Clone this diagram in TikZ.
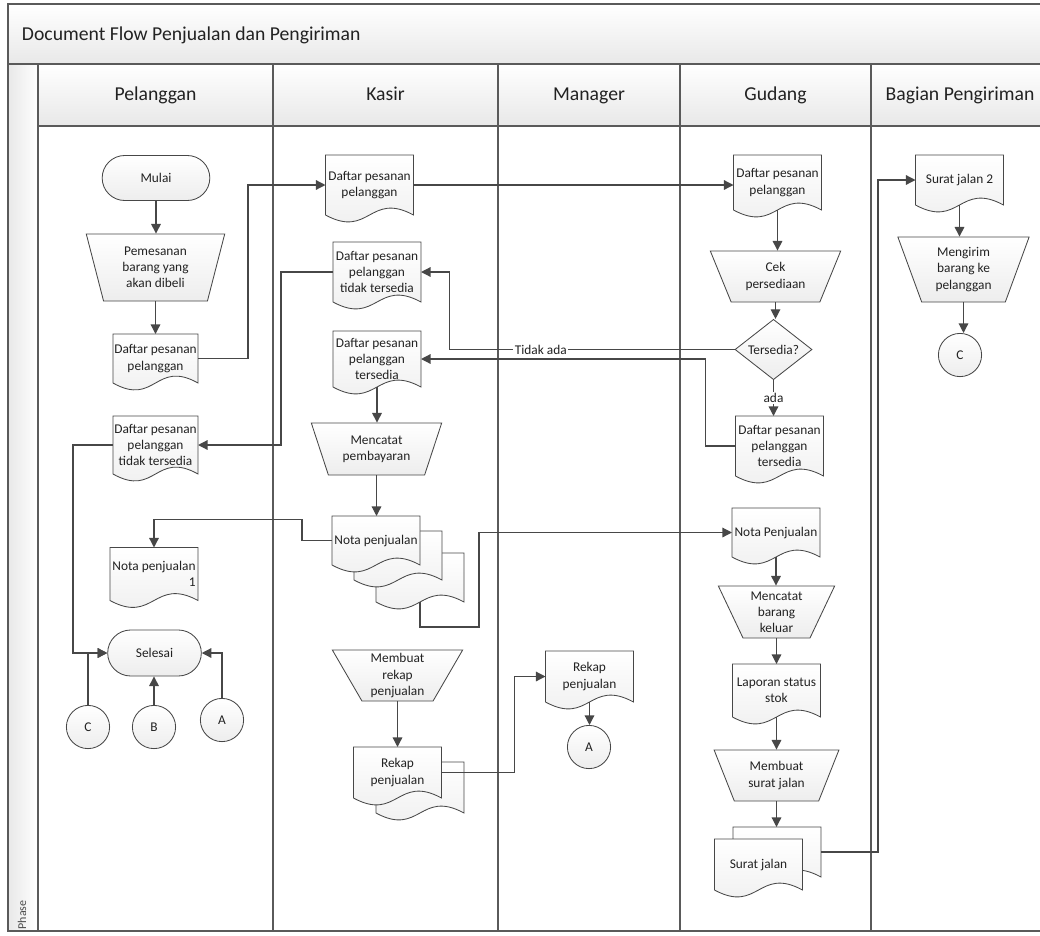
\documentclass[tikz,border=0pt]{standalone}
\usepackage{fontspec}
\setmainfont{Carlito}
\usepackage{tikz}
\usetikzlibrary{positioning, calc, arrows.meta, shapes.geometric, shapes.misc}
\definecolor{lineclr}{HTML}{474747}
\definecolor{laneclr}{HTML}{5A5A5A}
\definecolor{txtclr}{HTML}{222222}
\newdimen\docxl \newdimen\docxr \newdimen\docxm
\newdimen\docyt \newdimen\docyb \newdimen\docyu \newdimen\docyd
\makeatletter
\pgfdeclareshape{docpage}{
  \inheritsavedanchors[from=rectangle]
  \inheritanchorborder[from=rectangle]
  \inheritanchor[from=rectangle]{center}
  \inheritanchor[from=rectangle]{text}
  \inheritanchor[from=rectangle]{base}
  \inheritanchor[from=rectangle]{mid}
  \inheritanchor[from=rectangle]{north}
  \inheritanchor[from=rectangle]{south}
  \inheritanchor[from=rectangle]{east}
  \inheritanchor[from=rectangle]{west}
  \inheritanchor[from=rectangle]{north east}
  \inheritanchor[from=rectangle]{north west}
  \inheritanchor[from=rectangle]{south east}
  \inheritanchor[from=rectangle]{south west}
  \backgroundpath{
    \southwest \docxl=\pgf@x \docyb=\pgf@y
    \northeast \docxr=\pgf@x \docyt=\pgf@y
    \docxm=.5\docxl \advance\docxm by .5\docxr
    \docyu=\docyb \advance\docyu by 17pt
    \docyd=\docyb \advance\docyd by -17pt
    \pgfpathmoveto{\pgfqpoint{\docxl}{\docyb}}
    \pgfpathlineto{\pgfqpoint{\docxl}{\docyt}}
    \pgfpathlineto{\pgfqpoint{\docxr}{\docyt}}
    \pgfpathlineto{\pgfqpoint{\docxr}{\docyb}}
    \pgfpathcurveto{\pgfqpoint{\docxm}{\docyu}}{\pgfqpoint{\docxm}{\docyd}}{\pgfqpoint{\docxl}{\docyb}}
    \pgfpathclose
  }
}
\makeatother
\tikzset{>={Triangle[length=2.4mm,width=2.4mm]}}
\tikzset{
  shp/.style={draw=lineclr, line width=0.6pt, top color=white, bottom color=black!7, text=txtclr, font=\fontsize{9.5}{11.5}\selectfont, align=center},
  docnode/.style={shp, docpage, minimum width=2.2cm, minimum height=#1, inner xsep=0.5pt, inner ysep=1pt, outer sep=0pt},
  docnode/.default=1.25cm,
  manop/.style={shp, trapezium, trapezium angle=#1, shape border rotate=180, trapezium stretches=true, inner sep=0pt},
  term/.style={shp, rounded rectangle},
  decision/.style={shp, diamond, minimum width=1.925cm, minimum height=1.4cm, inner sep=0pt},
  conn/.style={shp, circle, minimum size=1.08cm, inner sep=0pt},
  flow/.style={draw=lineclr, line width=0.9pt, ->},
  lane/.style={draw=laneclr, line width=1.1pt},
  lbl/.style={fill=white, inner sep=1pt, text=txtclr, font=\fontsize{9.5}{11.5}\selectfont},
  head/.style={text=txtclr, font=\fontsize{14}{16}\selectfont, text height=10pt, text depth=3pt}
}

\begin{document}
\begin{tikzpicture}[x=0.025cm, y=-0.025cm]
  \useasboundingbox (0,0) rectangle (1040,935);
  \path[top color=white, bottom color=black!9] (8,4) rectangle (1045,64);
  \path[top color=white, bottom color=black!9] (38,64) rectangle (1045,126);
  \path[left color=black!9, right color=white] (8,64) rectangle (38,931);
  \draw[lane] (8,4) rectangle (1045,931);
  \draw[lane] (8,64) -- (1045,64);
  \draw[lane] (38,126) -- (1045,126);
  \foreach \x in {38,273,498,680,871}
    \draw[lane] (\x,64) -- (\x,931);

  \node[head, anchor=west] (title) at (17,36) {Document Flow Penjualan dan Pengiriman};
  \node[head] (hpel) at (155.5,96) {Pelanggan};
  \node[head] (hkas) at (385.5,96) {Kasir};
  \node[head] (hman) at (589,96) {Manager};
  \node[head] (hgud) at (775.5,96) {Gudang};
  \node[head] (hkir) at (960,96) {Bagian Pengiriman};
  \node[rotate=90, text=black!70, font=\fontsize{8.5}{9}\selectfont] (phase) at (22,915) {Phase};

  \node[term, minimum width=2.925cm, minimum height=1.125cm] (mulai) at (156,178) {Mulai};
  \node[manop=75, minimum width=3.475cm, minimum height=1.675cm] (pesan) at (155.5,267.5) {Pemesanan\\barang yang\\akan dibeli};
  \node[docnode=1.225cm, minimum width=2.125cm] (pdaftar) at (155.5,358.5) {Daftar pesanan\\pelanggan};
  \node[docnode=1.45cm, minimum width=2.125cm] (ptidak) at (155.5,445) {Daftar pesanan\\pelanggan\\tidak tersedia};
  \node[docnode=1.325cm, align=right] (pnota) at (154,574) {Nota penjualan\\1};
  \node[term, minimum width=2.575cm, minimum height=1.15cm] (selesai) at (154.5,653) {Selesai};
  \node[conn] (pc) at (88,727) {C};
  \node[conn] (pb) at (154,727) {B};
  \node[conn] (pa) at (222,720) {A};

  \node[docnode=1.5cm] (kdaftar) at (369.5,185) {Daftar pesanan\\pelanggan};
  \node[docnode=1.5cm] (ktidak) at (377,272) {Daftar pesanan\\pelanggan\\tidak tersedia};
  \node[docnode=1.4cm] (ktersedia) at (377,359) {Daftar pesanan\\pelanggan\\tersedia};
  \node[manop=66, minimum width=3.275cm, minimum height=1.3cm] (kbayar) at (376.5,449) {Mencatat\\pembayaran};
  \node[docnode=1.225cm] (knota3) at (420,577.5) {};
  \node[docnode=1.225cm] (knota2) at (398,555.5) {};
  \node[docnode=1.225cm] (knota) at (376,540.5) {Nota penjualan};
  \node[manop=63, minimum width=3.275cm, minimum height=1.275cm] (kbuatrekap) at (397.5,675.5) {Membuat\\rekap\\penjualan};
  \node[docnode=1.275cm] (krekap2) at (420,787.5) {};
  \node[docnode=1.275cm] (krekap) at (397.5,772.5) {Rekap\\penjualan};

  \node[docnode=1.275cm] (mrekap) at (589.5,676.5) {Rekap\\penjualan};
  \node[conn] (ma) at (589,747) {A};

  \node[docnode=1.375cm] (gdaftar) at (777.5,182.5) {Daftar pesanan\\pelanggan};
  \node[manop=63, minimum width=3.275cm, minimum height=1.275cm] (gcek) at (775.5,276.5) {Cek\\persediaan};
  \node[decision] (gstok) at (773.5,349.5) {Tersedia?};
  \node[docnode=1.5cm] (gtersedia) at (779.5,446) {Daftar pesanan\\pelanggan\\tersedia};
  \node[docnode=1.225cm] (gnota) at (776,532.5) {Nota Penjualan};
  \node[manop=65, minimum width=2.925cm, minimum height=1.3cm] (gcatat) at (776.5,612) {Mencatat\\barang\\keluar};
  \node[docnode=1.325cm] (glaporan) at (776.5,690.5) {Laporan status\\stok};
  \node[manop=64, minimum width=3.125cm, minimum height=1.275cm] (gbuatsj) at (776.5,775.5) {Membuat\\surat jalan};
  \node[docnode=1.25cm] (gsj2) at (777,852) {};
  \node[docnode=1.275cm] (gsj) at (758.5,864.5) {Surat jalan};

  \node[docnode=1.25cm] (bsj) at (959.5,180) {Surat jalan 2};
  \node[manop=70, minimum width=3.3cm, minimum height=1.625cm] (bkirim) at (963.5,269.5) {Mengirim\\barang ke\\pelanggan};
  \node[conn] (bc) at (960,355) {C};

  \draw[flow] (mulai.south) -- (mulai.south |- pesan.north);
  \draw[flow] (pesan.south) -- (pesan.south |- pdaftar.north);
  \draw[flow] (pdaftar.east) -- ++(50,0) |- (kdaftar.west);
  \draw[flow] (kdaftar.east) -- (kdaftar.east -| gdaftar.west);
  \draw[flow] (gdaftar.south) -- (gdaftar.south |- gcek.north);
  \draw[flow] (gcek.south) -- (gcek.south |- gstok.north);
  \draw[flow] (gstok.west) -- node[lbl, pos=0.68] (ltidak) {Tidak ada} ++(-285,0) |- (ktidak.east);
  \draw[flow] (gstok.south) -- node[lbl] (lada) {ada} (gstok.south |- gtersedia.north);
  \draw[flow] (gtersedia.west) -- ++(-30,0) |- (ktersedia.east);
  \draw[flow] (ktidak.west) -- ++(-52,0) |- (ptidak.east);
  \draw[flow] (ptidak.west) -- ++(-40,0) |- (selesai.west);
  \draw[flow] (pc.north) |- (selesai.west);
  \draw[flow] (pb.north) -- (pb.north |- selesai.south);
  \draw[flow] (pa.north) |- (selesai.east);
  \draw[flow] (ktersedia.south) -- (ktersedia.south |- kbayar.north);
  \draw[flow] (kbayar.south) -- (kbayar.south |- knota.north);
  \draw[flow] (knota.west) -- ++(-30,0) -- ++(0,-21) -| (pnota.north);
  \draw[flow] (knota3.south) |- ++(59,25) |- (gnota.west);
  \draw[flow] (gnota.south) -- (gnota.south |- gcatat.north);
  \draw[flow] (gcatat.south) -- (gcatat.south |- glaporan.north);
  \draw[flow] (glaporan.south) -- (glaporan.south |- gbuatsj.north);
  \draw[flow] (gbuatsj.south) -- (gbuatsj.south |- gsj2.north);
  \draw[flow] (gsj2.east) -- ++(57,0) |- (bsj.west);
  \draw[flow] (bsj.south) -- (bsj.south |- bkirim.north);
  \draw[flow] (bkirim.south) -- (bkirim.south |- bc.north);
  \draw[flow] (kbuatrekap.south) -- (kbuatrekap.south |- krekap.north);
  \draw[flow] (krekap.east) -- ++(73,0) |- (mrekap.west);
  \draw[flow] (mrekap.south) -- (mrekap.south |- ma.north);
\end{tikzpicture}
\end{document}
